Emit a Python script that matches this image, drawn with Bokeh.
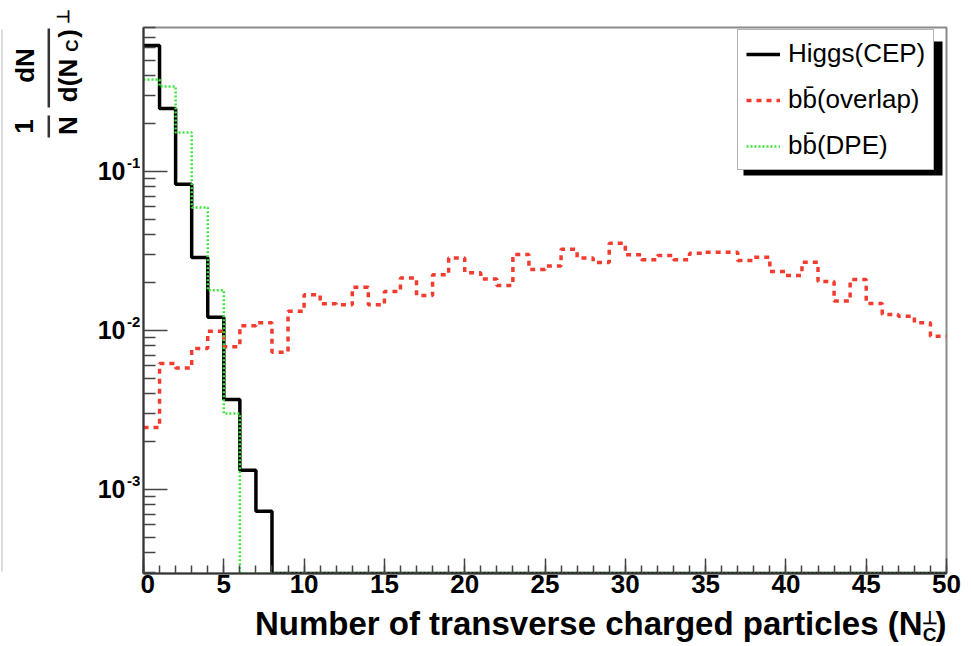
import numpy as np
from bokeh.plotting import figure
from bokeh.layouts import row, column
from bokeh.models import (Range1d, FixedTicker, Legend, LegendItem, BoxAnnotation,
                          CustomJSTickFormatter, LogScale)
from bokeh.core.properties import value
from bokeh.embed import file_html
from bokeh.resources import INLINE

# ---------------- data ----------------
bin_edges = list(range(0, 51))
higgs_cep = [0.62, 0.249, 0.083, 0.0288, 0.0121, 0.00368, 0.00132, 0.00073] + [0.0] * 42
bb_dpe = [0.379, 0.343, 0.176, 0.0594, 0.0179, 0.0030] + [0.0] * 44
bb_overlap = [0.00245, 0.0062, 0.0058, 0.0077, 0.0099, 0.0079, 0.0107, 0.0112, 0.0073, 0.0132,
              0.0168, 0.0147, 0.0145, 0.0187, 0.0145, 0.0176, 0.0214, 0.0166, 0.0224, 0.0286,
              0.0231, 0.0211, 0.0192, 0.0301, 0.0242, 0.0254, 0.0324, 0.0286, 0.0268, 0.0354,
              0.0299, 0.0279, 0.0296, 0.0279, 0.0306, 0.0311, 0.0311, 0.0276, 0.0289, 0.0235,
              0.0222, 0.0269, 0.0203, 0.0153, 0.0209, 0.0148, 0.0126, 0.0123, 0.0112, 0.0092]
x_ticks = list(range(0, 51, 5))
y_ticks = [1e-3, 1e-2, 1e-1]
y_tick_base = ["10", "10", "10"]
y_tick_exp = ["-3", "-2", "-1"]
series_labels = ["Higgs(CEP)", "bb\u0304(overlap)", "bb\u0304(DPE)"]
x_title = "Number of transverse charged particles (N"

YMIN, YMAX = 2.96e-4, 0.805
FONT = "Liberation Sans"
W, H = 971, 646
LEFT_W = 140          # width of the left text strip
FR_L, FR_R, FR_T, FR_B = 143, 946, 27, 573   # frame box in page pixels
MAIN_H = 606

# ---------------- main plot ----------------
p = figure(width=W - LEFT_W, height=MAIN_H, y_axis_type="log",
           x_range=Range1d(0, 50), y_range=Range1d(YMIN, YMAX),
           output_backend="svg", toolbar_location=None,
           min_border_left=FR_L - LEFT_W, min_border_right=W - FR_R,
           min_border_top=FR_T, min_border_bottom=MAIN_H - FR_B)
p.background_fill_color = "white"
p.border_fill_color = "white"
p.outline_line_color = "#8a8a8a"
p.outline_line_width = 2
p.xgrid.visible = False
p.ygrid.visible = False

p.xaxis.ticker = FixedTicker(ticks=x_ticks, minor_ticks=bin_edges)
minor_y = [k * 10.0 ** e for e in (-4, -3, -2, -1) for k in range(2, 10)
           if YMIN <= k * 10.0 ** e <= YMAX]
p.yaxis.ticker = FixedTicker(ticks=y_ticks, minor_ticks=minor_y)

for ax in (p.xaxis, p.yaxis):
    ax.axis_line_color = "#333333"
    ax.axis_line_width = 2
    ax.major_tick_line_color = "#444444"
    ax.minor_tick_line_color = "#444444"
    ax.major_tick_line_width = 1.5
    ax.minor_tick_line_width = 1.5
    ax.major_tick_out = 0
    ax.minor_tick_out = 0
p.xaxis.major_tick_in = 15
p.xaxis.minor_tick_in = 8
p.yaxis.major_tick_in = 24
p.yaxis.minor_tick_in = 12

p.xaxis.major_label_text_font = FONT
p.xaxis.major_label_text_font_style = "bold"
p.xaxis.major_label_text_font_size = "26px"
p.xaxis.major_label_text_color = "black"
p.xaxis.major_label_standoff = 1
p.yaxis.formatter = CustomJSTickFormatter(code="return ''")
p.yaxis.major_label_standoff = 0


def steps(vals):
    v = np.maximum(np.array(vals, dtype=float), YMIN)
    return np.append(v, v[-1])


r_h = p.step(bin_edges, steps(higgs_cep), mode="after", line_color="black", line_width=3.5)
r_o = p.step(bin_edges, steps(bb_overlap), mode="after", line_color="#f23c2f", line_width=3.5,
             line_dash="5 5")
r_d = p.step(bin_edges, steps(bb_dpe), mode="after", line_color="#3de63d", line_width=2.5,
             line_dash="2 2")

# legend shadow + legend
p.add_layout(BoxAnnotation(left=600, right=799, bottom=398, top=532,
                           left_units="screen", right_units="screen",
                           bottom_units="screen", top_units="screen",
                           fill_color="black", fill_alpha=1, line_color=None))
legend = Legend(items=[LegendItem(label=series_labels[0], renderers=[r_h]),
                       LegendItem(label=series_labels[1], renderers=[r_o]),
                       LegendItem(label=series_labels[2], renderers=[r_d])],
                location=(594, 403))
legend.border_line_color = "#666666"
legend.border_line_width = 1.5
legend.background_fill_color = "white"
legend.background_fill_alpha = 1
legend.label_text_font = FONT
legend.label_text_font_size = "26px"
legend.label_text_color = "black"
legend.glyph_width = 34
legend.glyph_height = 30
legend.label_height = 30
legend.label_standoff = 8
legend.spacing = 15
legend.padding = 8
legend.margin = 0
p.add_layout(legend)

# ---------------- left strip: y tick labels + y title ----------------
# pixel coordinates (y up from page bottom) plus a log range aligned with the main frame
dec_per_px = (np.log10(YMAX) - np.log10(YMIN)) / (FR_B - FR_T)
log_top = 10 ** (np.log10(YMAX) + FR_T * dec_per_px)
log_bot = 10 ** (np.log10(YMIN) - (H - FR_B) * dec_per_px)

lf = figure(width=LEFT_W, height=H, x_range=Range1d(0, LEFT_W), y_range=Range1d(0, H),
            output_backend="svg", toolbar_location=None, min_border=0,
            x_axis_location=None, y_axis_location=None)
lf.outline_line_color = None
lf.xgrid.visible = False
lf.ygrid.visible = False
lf.extra_y_ranges = {"log": Range1d(log_bot, log_top)}
lf.extra_y_scales = {"log": LogScale()}

lf.text(x=[125] * 3, y=y_ticks, text=y_tick_base, y_range_name="log",
        text_align="right", text_baseline="middle", text_font=value(FONT),
        text_font_style="bold", text_font_size="25px", text_color="black")
lf.text(x=[126.5] * 3, y=y_ticks, text=y_tick_exp, y_range_name="log", y_offset=-8.5,
        text_align="left", text_baseline="middle", text_font=value(FONT),
        text_font_style="bold", text_font_size="15px", text_color="black")

R = np.pi / 2


def ltxt(fig, t, x, y, size, angle=0.0, align="center", baseline="middle"):
    # y is given in page pixels from the top
    fig.text(x=[x], y=[H - y], text=[t], angle=angle, text_align=align, text_baseline=baseline,
             text_font=value(FONT), text_font_style="bold", text_font_size=size,
             text_color="black")


ltxt(lf, "dN", 24, 65, "26px", R)
ltxt(lf, "d(N", 67, 80, "26px", R)
ltxt(lf, "C", 72, 45, "17px", R)
ltxt(lf, ")", 67, 33, "26px", R)
ltxt(lf, "\u22a5", 63, 16, "17px", R)
ltxt(lf, "1", 23, 126, "26px", R)
ltxt(lf, "N", 67, 125, "26px", R)
lf.segment(x0=[48.3, 48.3], y0=[H - 28, H - 115], x1=[48.3, 48.3], y1=[H - 107, H - 137],
           line_color="#333333", line_width=2.5)
lf.segment(x0=[1.5], y0=[H - 29], x1=[1.5], y1=[H - 571], line_color="#cfcfcf", line_width=1.5)

# ---------------- bottom strip: x title ----------------
bf = figure(width=W - LEFT_W, height=H - MAIN_H, x_range=Range1d(FR_L, FR_R),
            y_range=Range1d(0, H - MAIN_H), output_backend="svg", toolbar_location=None,
            min_border_left=FR_L - LEFT_W, min_border_right=W - FR_R,
            min_border_top=0, min_border_bottom=0,
            x_axis_location=None, y_axis_location=None)
bf.outline_line_color = None
bf.xgrid.visible = False
bf.ygrid.visible = False


def btxt(t, x, y, size, align="center", baseline="middle"):
    bf.text(x=[x], y=[H - y], text=[t], text_align=align, text_baseline=baseline,
            text_font=value(FONT), text_font_style="bold", text_font_size=size,
            text_color="black")


btxt(x_title, 922, 623, "33px", align="right")
btxt("\u22a5", 929, 617, "18px")
btxt("C", 929, 634, "19px")
btxt(")", 935, 623, "33px", align="left")

layout = row(lf, column(p, bf))
open("out.html", "w").write(file_html(layout, INLINE))
